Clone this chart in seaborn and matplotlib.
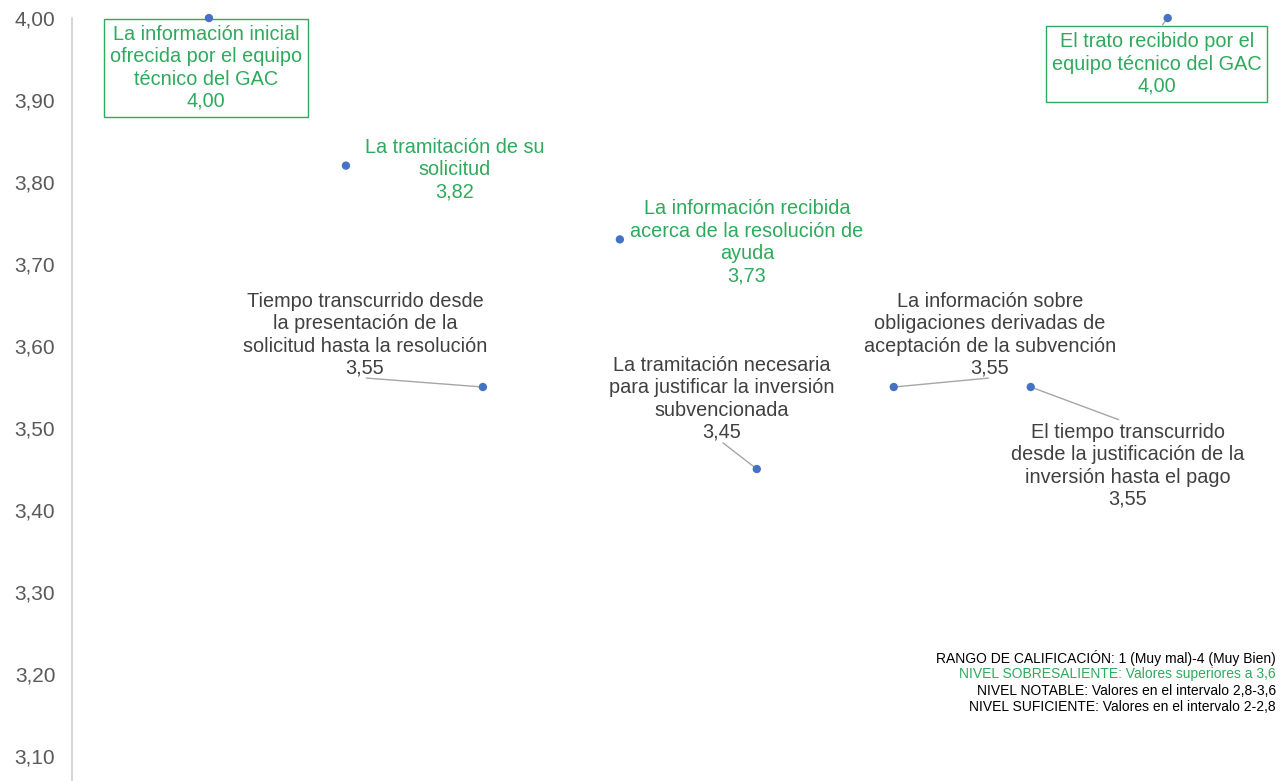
import matplotlib
matplotlib.use("Agg")
import matplotlib.pyplot as plt
import seaborn as sns
import pandas as pd

# datos
etiquetas = [
    "La información inicial\nofrecida por el equipo\ntécnico del GAC",
    "La tramitación de su\nsolicitud",
    "Tiempo transcurrido desde\nla presentación de la\nsolicitud hasta la resolución",
    "La información recibida\nacerca de la resolución de\nayuda",
    "La tramitación necesaria\npara justificar la inversión\nsubvencionada",
    "La información sobre\nobligaciones derivadas de\naceptación de la subvención",
    "El tiempo transcurrido\ndesde la justificación de la\ninversión hasta el pago",
    "El trato recibido por el\nequipo técnico del GAC",
]
valores = [4.00, 3.82, 3.55, 3.73, 3.45, 3.55, 3.55, 4.00]
sobresaliente = [True, True, False, True, False, False, False, True]
con_caja = [True, False, False, False, False, False, False, True]
# desplazamiento de cada etiqueta respecto a su punto (pixeles)
desplaz = [(-3, -50), (109, -4), (-118, 52), (127, -3), (-35, 70), (96, 52), (97, -79), (-11, -46)]
# punto de salida de la linea guia sobre la etiqueta (None = sin linea)
guia = [None, None, (0.5, 0), None, (0.5, 0), (0.5, 0), (0.5, 1), (0.5, 1)]

ticks_y = [3.1, 3.2, 3.3, 3.4, 3.5, 3.6, 3.7, 3.8, 3.9, 4.0]
leyenda = [
    ("RANGO DE CALIFICACIÓN: 1 (Muy mal)-4 (Muy Bien)", "#000000"),
    ("NIVEL SOBRESALIENTE: Valores superiores a 3,6", "#2EAA5C"),
    ("NIVEL NOTABLE: Valores en el intervalo 2,8-3,6", "#000000"),
    ("NIVEL SUFICIENTE: Valores en el intervalo 2-2,8", "#000000"),
]

VERDE = "#2EAA5C"
GRIS = "#404040"

sns.set_theme(style="white")
plt.rcParams["font.family"] = ["Liberation Sans", "DejaVu Sans"]

df = pd.DataFrame({"x": range(1, len(valores) + 1), "valor": valores})

fig = plt.figure(figsize=(12.8, 7.81), dpi=100)
ax = fig.add_axes([72 / 1280, 0, 1 - 72 / 1280, 1])

sns.scatterplot(data=df, x="x", y="valor", color="#4472C4", s=36,
                edgecolor="none", zorder=5, ax=ax)

for i, (lab, v) in enumerate(zip(etiquetas, valores)):
    col = VERDE if sobresaliente[i] else GRIS
    txt = lab + "\n" + f"{v:.2f}".replace(".", ",")
    kw = dict(textcoords="offset pixels", ha="center", va="center",
              fontsize=14.3, color=col, linespacing=1.22, zorder=4)
    if con_caja[i]:
        kw["bbox"] = dict(boxstyle="square,pad=0.3", fc="white", ec=VERDE, lw=1)
    if guia[i] is not None:
        props = dict(arrowstyle="-", color="#a6a6a6", lw=1, relpos=guia[i],
                     shrinkA=7 if i == 6 else 1, shrinkB=3)
        if not con_caja[i]:
            props["patchA"] = None
        kw["arrowprops"] = props
    ax.annotate(txt, xy=(i + 1, v), xytext=desplaz[i], **kw)

ax.set_xlim(0, 8.82)
ax.set_ylim(3.0695, 4.022)
ax.set_yticks(ticks_y)
ax.set_yticklabels([f"{t:.2f}".replace(".", ",") for t in ticks_y])
ax.tick_params(axis="y", labelsize=15, labelcolor="#595959", length=0, pad=12)
ax.set_xticks([])
ax.set_xlabel("")
ax.set_ylabel("")
for s in ["top", "right", "bottom"]:
    ax.spines[s].set_visible(False)
ax.spines["left"].set_color("#d0d0d0")
ax.spines["left"].set_bounds(3.0695, 4.0)

for j, (t, c) in enumerate(leyenda):
    fig.text(1276 / 1280, 1 - (658 + 16.4 * j) / 781, t, ha="right", va="center",
             fontsize=10, color=c, family=["Liberation Sans Narrow", "Liberation Sans"])

fig.savefig("out.png", dpi=100)
